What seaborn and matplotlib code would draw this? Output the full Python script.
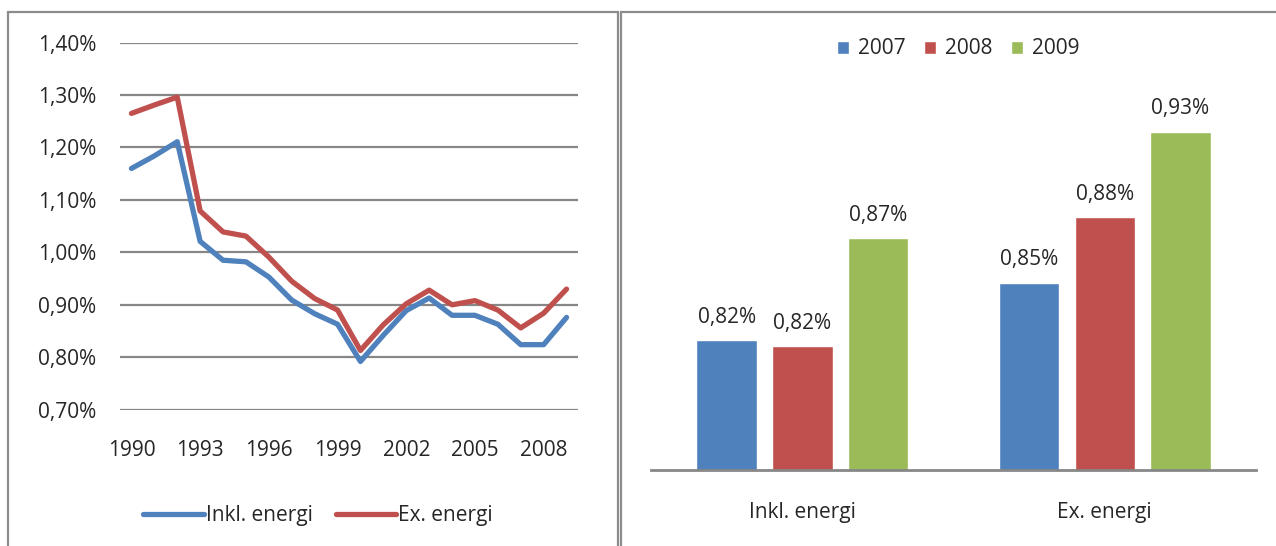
import numpy as np
import pandas as pd
import matplotlib
matplotlib.use("Agg")
import matplotlib.pyplot as plt
from matplotlib.patches import Rectangle
import seaborn as sns

# data
years = list(range(1990, 2010))
inkl_energi = [1.160, 1.184, 1.211, 1.021, 0.985, 0.982, 0.953, 0.909, 0.883, 0.863,
               0.792, 0.842, 0.889, 0.913, 0.880, 0.880, 0.863, 0.824, 0.824, 0.876]
ex_energi = [1.265, 1.281, 1.296, 1.079, 1.039, 1.031, 0.991, 0.945, 0.912, 0.890,
             0.813, 0.862, 0.902, 0.928, 0.900, 0.908, 0.890, 0.856, 0.884, 0.930]
series_names = ["Inkl. energi", "Ex. energi"]

bar_years = ["2007", "2008", "2009"]
bar_inkl = [0.819, 0.816, 0.8735]
bar_ex = [0.8496, 0.8847, 0.930]

BLUE, RED, GREEN = "#4F81BD", "#C0504D", "#9BBB59"
GRID = "#878787"

sns.set_style("white")
plt.rcParams["font.family"] = ["Open Sans", "DejaVu Sans"]
plt.rcParams["font.size"] = 15

W, H = 1276, 546
fig = plt.figure(figsize=(W / 100, H / 100), dpi=100)


def box(l, t, r, b):
    return [l / W, 1 - b / H, (r - l) / W, (b - t) / H]


# frames around the two panels
for l, t, r, b in [(8, 12, 618, 560), (621, 12, 1290, 560)]:
    fig.add_artist(Rectangle((l / W, 1 - b / H), (r - l) / W, (b - t) / H,
                             transform=fig.transFigure, fill=False,
                             edgecolor="#8c8c8c", lw=1.6, clip_on=False))

# left: line chart
lines = pd.DataFrame({
    "year": years * 2,
    "value": inkl_energi + ex_energi,
    "serie": [series_names[0]] * len(years) + [series_names[1]] * len(years),
})
ax1 = fig.add_axes(box(120, 42.6, 578, 409.7))
ax1.set_axisbelow(True)
sns.lineplot(data=lines, x="year", y="value", hue="serie", palette=[BLUE, RED],
             lw=3.8, ax=ax1, legend=False)
ax1.set_xlim(1989.5, 2009.5)
ax1.set_ylim(0.70, 1.40)
yt = np.round(np.arange(0.70, 1.401, 0.10), 2)
ax1.set_yticks(yt)
ax1.set_yticklabels([f"{v:.2f}".replace(".", ",") + "%" for v in yt])
xt = years[::3]
ax1.set_xticks(xt)
ax1.set_xticklabels([str(y) for y in xt])
ax1.yaxis.grid(True, color=GRID, lw=1.6)
ax1.tick_params(axis="y", length=0, pad=17)
ax1.tick_params(axis="x", length=0, pad=22)
ax1.set_xlabel("")
ax1.set_ylabel("")
for s in ax1.spines.values():
    s.set_visible(False)
handles = [plt.Line2D([], [], color=c, lw=3.8) for c in [BLUE, RED]]
fig.legend(handles, series_names, loc="center", bbox_to_anchor=(318 / W, 1 - 516 / H),
           ncol=2, frameon=False, handlelength=2.9, handletextpad=0.1,
           columnspacing=1.1)

# right: bar chart
bars = pd.DataFrame({
    "kategori": ["Inkl. energi"] * 3 + ["Ex. energi"] * 3,
    "aar": bar_years * 2,
    "value": bar_inkl + bar_ex,
})
ax2 = fig.add_axes(box(651, 20, 1256, 470))
sns.barplot(data=bars, x="kategori", y="value", hue="aar",
            palette=[BLUE, RED, GREEN], width=0.75, gap=0.2, ax=ax2,
            saturation=1, legend=True)
ax2.set_ylim(0.75, 0.9896)
ax2.set_xlim(-0.5, 1.5)
for cont in ax2.containers:
    ax2.bar_label(cont, labels=[f"{b.get_height():.2f}".replace(".", ",") + "%"
                                for b in cont], padding=9)
ax2.set_yticks([])
ax2.set_xlabel("")
ax2.set_ylabel("")
ax2.tick_params(axis="x", length=0, pad=23)
for k in ["top", "right", "left"]:
    ax2.spines[k].set_visible(False)
ax2.spines["bottom"].set_color(GRID)
ax2.spines["bottom"].set_linewidth(2)
h, lab = ax2.get_legend_handles_labels()
ax2.get_legend().remove()
fig.legend(h, lab, loc="center", bbox_to_anchor=(958 / W, 1 - 49 / H), ncol=3,
           frameon=False, handlelength=0.6, handleheight=0.6,
           handletextpad=0.4, columnspacing=0.9)

fig.savefig("out.png", dpi=100)
